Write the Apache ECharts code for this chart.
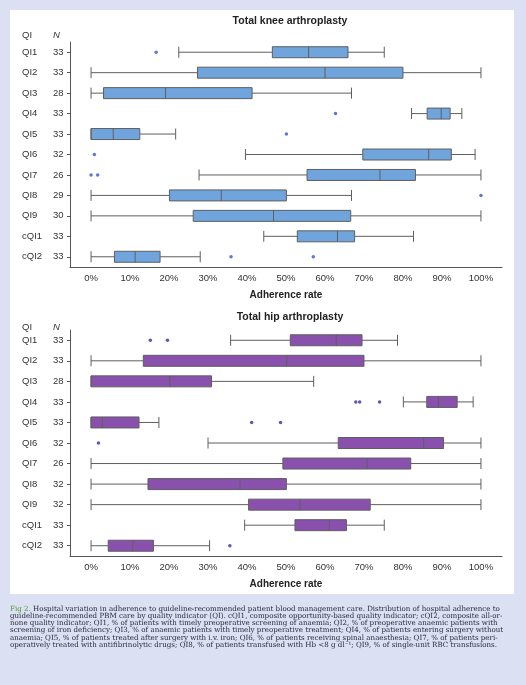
<!DOCTYPE html>
<html>
<head>
<meta charset="utf-8">
<script src="https://cdn.jsdelivr.net/npm/echarts@6/dist/echarts.min.js"></script>
<style>
html,body{margin:0;padding:0;background:#dbe0f3;}
#c{width:526px;height:685px;}
</style>
</head>
<body>
<div id="c"></div>
<script>
const categories = ['QI1','QI2','QI3','QI4','QI5','QI6','QI7','QI8','QI9','cQI1','cQI2'];
const kneeN = [33,33,28,33,33,32,26,29,30,33,33];
const hipN  = [33,33,28,33,33,32,26,32,32,33,33];
// [min whisker, Q1, median, Q3, max whisker] in %
const kneeBoxes = [
  [22.5,46.5,55.8,65.9,75.2],
  [0,27.3,60.0,80.0,100],
  [0,3.2,19.1,41.3,66.8],
  [82.2,86.2,89.8,92.1,95.1],
  [0,0,5.7,12.5,21.7],
  [39.6,69.7,86.6,92.4,98.5],
  [27.7,55.4,74.1,83.2,100],
  [0,20.1,33.4,50.1,66.8],
  [0,26.2,46.8,66.6,100],
  [44.3,52.9,63.2,67.6,82.7],
  [0,6.0,11.3,17.7,28.0]
];
const kneeOutliers = [['QI1',16.7],['QI4',62.7],['QI5',50.1],['QI6',0.85],['QI7',0],['QI7',1.7],['QI8',100],['cQI2',35.9],['cQI2',57.0]];
const hipBoxes = [
  [35.8,51.1,62.9,69.5,78.6],
  [0,13.4,50.2,70.0,100],
  [0,0,20.2,30.9,57.1],
  [80.1,86.1,89.1,93.9,98.0],
  [0,0,2.9,12.3,17.4],
  [30.0,63.4,85.3,90.4,100],
  [0,49.2,70.8,82.0,100],
  [0,14.6,38.2,50.1,100],
  [0,40.4,53.6,71.6,100],
  [39.4,52.3,61.1,65.5,75.2],
  [0,4.4,10.7,16.0,30.4]
];
const hipOutliers = [['QI1',15.2],['QI1',19.6],['QI4',67.9],['QI4',68.9],['QI4',74.0],['QI5',41.2],['QI5',48.6],['QI6',1.9],['cQI2',35.6]];
const xTicks = [0,10,20,30,40,50,60,70,80,90,100];
const captionLines = [
  'Hospital variation in adherence to guideline-recommended patient blood management care. Distribution of hospital adherence to',
  'guideline-recommended PBM care by quality indicator (QI). cQI1, composite opportunity-based quality indicator; cQI2, composite all-or-',
  'none quality indicator; QI1, % of patients with timely preoperative screening of anaemia; QI2, % of preoperative anaemic patients with',
  'screening of iron deficiency; QI3, % of anaemic patients with timely preoperative treatment; QI4, % of patients entering surgery without',
  'anaemia; QI5, % of patients treated after surgery with i.v. iron; QI6, % of patients receiving spinal anaesthesia; QI7, % of patients peri-',
  'operatively treated with antifibrinolytic drugs; QI8, % of patients transfused with Hb <8 g dl\u207B\u00B9; QI9, % of single-unit RBC transfusions.'
];

const FONT = 'Liberation Sans, Arial, sans-serif';
const CAPFONT = '7.1px DejaVu Serif, serif';
const chart = echarts.init(document.getElementById('c'), null, {renderer:'canvas'});

function xAxisCfg(gi){
  return {
    type:'value', gridIndex:gi, min:-5.4, max:105.4,
    axisLine:{show:true, onZero:false, lineStyle:{color:'#555', width:1}},
    axisTick:{show:false},
    splitLine:{show:false},
    axisLabel:{customValues:xTicks, formatter:v=>v+'%', color:'#333', fontSize:9.5, fontFamily:FONT, margin:6},
    name:'Adherence rate', nameLocation:'middle', nameGap:23,
    nameTextStyle:{color:'#222', fontSize:10, fontWeight:'bold', fontFamily:FONT}
  };
}
function yAxisCfg(gi, nArr){
  return {
    type:'category', gridIndex:gi, data:categories, inverse:true,
    axisLine:{show:true, onZero:false, lineStyle:{color:'#555', width:1}},
    axisTick:{show:true, alignWithLabel:true, length:3, lineStyle:{color:'#555'}},
    axisLabel:{
      align:'left', margin:48, color:'#333', fontFamily:FONT, fontSize:9.5,
      formatter:(v,i)=>'{a|'+v+'}{b|'+nArr[i]+'}',
      rich:{a:{width:31, fontSize:9.5, color:'#333', fontFamily:FONT}, b:{fontSize:9.5, color:'#333', fontFamily:FONT}}
    }
  };
}
function boxSeries(gi, data, fill){
  return {
    type:'boxplot', xAxisIndex:gi, yAxisIndex:gi, data:data,
    boxWidth:[11,11],
    itemStyle:{color:fill, borderColor:'#5f5f5f', borderWidth:1},
    emphasis:{disabled:true}, silent:true
  };
}
function outSeries(gi, data, col){
  return {
    type:'scatter', xAxisIndex:gi, yAxisIndex:gi,
    data:data.map(d=>[d[1], d[0]]),
    symbol:'circle', symbolSize:3.5,
    itemStyle:{color:col},
    silent:true
  };
}

const graphics = [
  {type:'rect', shape:{x:10, y:10, width:504, height:584}, style:{fill:'#ffffff'}, z:-10, silent:true},
  {type:'text', left:22, top:30, style:{text:'QI', font:'9.5px '+FONT, fill:'#333'}},
  {type:'text', left:53, top:30, style:{text:'N', font:'italic 9.5px '+FONT, fill:'#333'}},
  {type:'text', left:22, top:322, style:{text:'QI', font:'9.5px '+FONT, fill:'#333'}},
  {type:'text', left:53, top:322, style:{text:'N', font:'italic 9.5px '+FONT, fill:'#333'}}
];
captionLines.forEach((ln, i)=>{
  const st = {text: i===0 ? '{g|Fig 2.} '+ln : ln, font:CAPFONT, fill:'#2a2a3a'};
  if(i===0) st.rich = {g:{fill:'#4e9a3a', font:CAPFONT}};
  graphics.push({type:'text', left:10, top:606 + i*7.05, style:st});
});

chart.setOption({
  backgroundColor:'#dbe0f3',
  animation:false,
  title:[
    {text:'Total knee arthroplasty', left:285, top:11, textAlign:'center',
     textStyle:{fontSize:10.5, fontWeight:'bold', color:'#222', fontFamily:FONT}},
    {text:'Total hip arthroplasty', left:285, top:307, textAlign:'center',
     textStyle:{fontSize:10.5, fontWeight:'bold', color:'#222', fontFamily:FONT}}
  ],
  grid:[
    {left:70, right:24, top:42, height:225},
    {left:70, right:24, top:330, height:226}
  ],
  xAxis:[xAxisCfg(0), xAxisCfg(1)],
  yAxis:[yAxisCfg(0, kneeN), yAxisCfg(1, hipN)],
  series:[
    boxSeries(0, kneeBoxes, '#6fa4dc'),
    outSeries(0, kneeOutliers, '#3557c4'),
    boxSeries(1, hipBoxes, '#8a50ae'),
    outSeries(1, hipOutliers, '#43289a')
  ],
  graphic:graphics
});
</script>
</body>
</html>
